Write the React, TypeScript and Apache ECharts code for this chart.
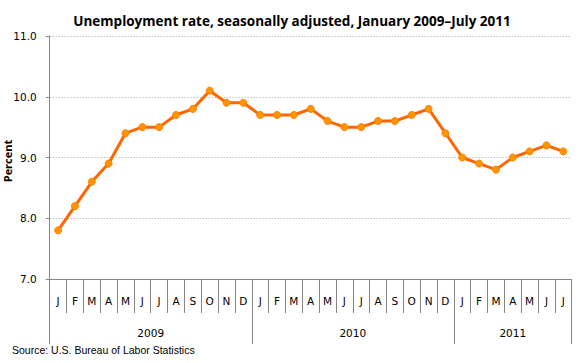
import React, { useEffect, useRef } from "react";
import * as echarts from "echarts";

const monthLabels = ["J","F","M","A","M","J","J","A","S","O","N","D"];
const years = ["2009", "2010", "2011"];
const yearCounts = [12, 12, 7];
const rates = [
  7.8, 8.2, 8.6, 8.9, 9.4, 9.5, 9.5, 9.7, 9.8, 10.1, 9.9, 9.9,
  9.7, 9.7, 9.7, 9.8, 9.6, 9.5, 9.5, 9.6, 9.6, 9.7, 9.8, 9.4,
  9.0, 8.9, 8.8, 9.0, 9.1, 9.2, 9.1,
];
const yTicks = [7, 8, 9, 10, 11];

export default function App() {
  const ref = useRef<HTMLDivElement>(null);
  useEffect(() => {
    if (!ref.current) return;
    const chart = echarts.init(ref.current, null, { renderer: "svg" });
    const categories: string[] = [];
    years.forEach((y, yi) => {
      for (let m = 0; m < yearCounts[yi]; m++) categories.push(monthLabels[m]);
    });
    const bounds: number[] = [0];
    const centers: number[] = [];
    let acc = 0;
    yearCounts.forEach((c) => {
      centers.push(acc + c / 2);
      acc += c;
      bounds.push(acc);
    });
    const axisGray = "#868686";
    chart.setOption({
      animation: false,
      backgroundColor: "#ffffff",
      title: {
        text: "Unemployment rate, seasonally adjusted, January 2009\u2013July 2011",
        left: 287,
        textAlign: "center",
        top: 9,
        textStyle: { fontFamily: "Open Sans", fontWeight: "bold", fontSize: 13.5, color: "#000" },
      },
      graphic: [
        {
          type: "text",
          left: 12,
          top: 344,
          style: { text: "Source: U.S. Bureau of Labor Statistics", font: "10.5px 'Liberation Sans'", fill: "#000" },
        },
        {
          type: "text",
          x: 7.5,
          y: 161,
          rotation: Math.PI / 2,
          style: {
            text: "Percent",
            font: "bold 11px 'Open Sans'",
            fill: "#000",
            align: "center",
            verticalAlign: "middle",
          },
        },
      ],
      grid: { left: 49.7, right: 8.3, top: 36, bottom: 84, containLabel: false, outerBoundsMode: "none" },
      xAxis: [
        {
          type: "category",
          data: categories,
          boundaryGap: true,
          axisLine: { show: true, lineStyle: { color: axisGray, width: 1 } },
          axisTick: { show: true, interval: 0, length: 34, lineStyle: { color: axisGray } },
          axisLabel: {
            interval: 0,
            margin: 16,
            fontFamily: "DejaVu Sans",
            fontSize: 10.5,
            color: "#000",
          },
          splitLine: { show: false },
        },
        {
          type: "value",
          min: 0,
          max: acc,
          position: "bottom",
          axisLine: { show: false },
          axisTick: { show: true, length: 65, customValues: bounds, lineStyle: { color: axisGray } },
          axisLabel: {
            customValues: centers,
            margin: 48,
            fontFamily: "DejaVu Sans",
            fontSize: 10.5,
            color: "#000",
            formatter: (v: number) => {
              const i = centers.indexOf(v);
              return i >= 0 ? years[i] : "";
            },
          },
          splitLine: { show: false },
        },
      ],
      yAxis: {
        type: "value",
        min: yTicks[0],
        max: yTicks[yTicks.length - 1],
        interval: 1,
        axisLine: { show: true, lineStyle: { color: axisGray } },
        axisTick: { show: true, length: 4, lineStyle: { color: axisGray } },
        axisLabel: {
          margin: 13,
          fontFamily: "DejaVu Sans",
          fontSize: 10.5,
          color: "#000",
          formatter: (v: number) => v.toFixed(1),
        },
        splitLine: { show: true, lineStyle: { color: "#a6a6a6", type: [1, 2], width: 1 } },
      },
      series: [
        {
          type: "line",
          xAxisIndex: 0,
          data: rates,
          symbol: "circle",
          symbolSize: 7,
          lineStyle: { color: "#FF6600", width: 3 },
          itemStyle: { color: "#FF9500", borderColor: "#FF8000", borderWidth: 1 },
          z: 5,
        },
      ],
    });
    return () => chart.dispose();
  }, []);
  return <div ref={ref} style={{ width: 580, height: 363, position: "absolute", left: 0, top: 0 }} />;
}
